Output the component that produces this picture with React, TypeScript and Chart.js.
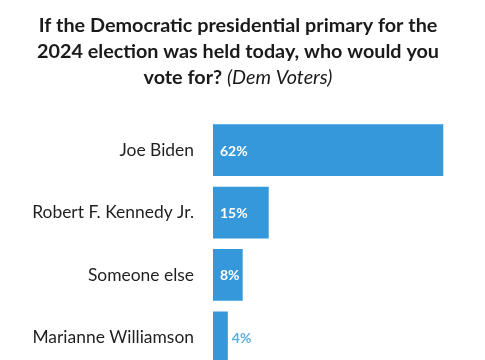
import React, { useEffect, useRef } from "react";
import { Chart, registerables } from "chart.js";

Chart.register(...registerables);

const categories = ["Joe Biden", "Robert F. Kennedy Jr.", "Someone else", "Marianne Williamson"];
const values = [62, 15, 8, 4];
const valueLabels = ["62%", "15%", "8%", "4%"];
const titleLines = [
  "If the Democratic presidential primary for the",
  "2024 election was held today, who would you",
];
const titleLastBold = "vote for? ";
const titleLastItalic = "(Dem Voters)";

const BAR_COLOR = "#3498db";
const FONT = "Lato, 'Open Sans', sans-serif";

function fitSize(text: string, weight: string, target: number): number {
  const c = document.createElement("canvas").getContext("2d")!;
  c.font = `${weight} 20px ${FONT}`;
  const w = c.measureText(text).width;
  return (20 * target) / w;
}

const titlePlugin = {
  id: "mixedTitle",
  afterDraw(chart: any) {
    const ctx = chart.ctx;
    const cx = 238;
    const size = fitSize(titleLines[0], "bold", 399);
    ctx.save();
    ctx.fillStyle = "#1a1a1a";
    ctx.textBaseline = "middle";
    ctx.textAlign = "center";
    ctx.font = `bold ${size}px ${FONT}`;
    const ys = [26, 52, 78];
    titleLines.forEach((t, i) => ctx.fillText(t, cx, ys[i]));
    const wb = ctx.measureText(titleLastBold).width;
    ctx.font = `italic ${size}px ${FONT}`;
    const wi = ctx.measureText(titleLastItalic).width;
    const start = cx - (wb + wi) / 2;
    ctx.textAlign = "left";
    ctx.font = `bold ${size}px ${FONT}`;
    ctx.fillText(titleLastBold, start, ys[2]);
    ctx.font = `italic ${size}px ${FONT}`;
    ctx.fillText(titleLastItalic, start + wb, ys[2]);
    ctx.restore();
  },
};

const labelPlugin = {
  id: "barLabels",
  afterDatasetsDraw(chart: any) {
    const ctx = chart.ctx;
    const meta = chart.getDatasetMeta(0);
    ctx.save();
    ctx.font = `bold 14px ${FONT}`;
    ctx.textBaseline = "middle";
    ctx.textAlign = "left";
    meta.data.forEach((bar: any, i: number) => {
      const txt = valueLabels[i];
      const w = bar.x - bar.base;
      if (w > 20) {
        ctx.fillStyle = "#ffffff";
        ctx.fillText(txt, bar.base + 7, bar.y + 1);
      } else {
        ctx.fillStyle = "#5aaee0";
        ctx.fillText(txt, bar.x + 4, bar.y + 1);
      }
    });
    ctx.restore();
  },
};

export default function App() {
  const ref = useRef<HTMLCanvasElement>(null);
  useEffect(() => {
    document.body.style.margin = "0";
    document.body.style.background = "#ffffff";
    const labelSize = fitSize(categories[1], "normal", 162);
    const chart = new Chart(ref.current!, {
      type: "bar",
      data: {
        labels: categories,
        datasets: [
          {
            data: values,
            backgroundColor: BAR_COLOR,
            borderWidth: 0,
            barPercentage: 0.83,
            categoryPercentage: 1,
          },
        ],
      },
      options: {
        indexAxis: "y",
        responsive: true,
        maintainAspectRatio: false,
        animation: false,
        layout: { padding: { top: 119, bottom: 0, left: 0, right: 12 } },
        plugins: {
          legend: { display: false },
          title: { display: false },
          tooltip: { enabled: false },
        },
        scales: {
          x: { display: false, min: 0, max: 70 },
          y: {
            grid: { display: false, drawTicks: false },
            border: { display: false },
            ticks: {
              padding: 19,
              color: "#1f1f1f",
              font: { family: FONT, size: labelSize },
            },
            afterFit: (s: any) => {
              s.width = 213;
            },
          },
        },
      },
      plugins: [titlePlugin, labelPlugin],
    });
    return () => chart.destroy();
  }, []);
  return (
    <div style={{ width: 485, height: 360, overflow: "hidden", background: "#fff" }}>
      <div style={{ position: "relative", width: 485, height: 398 }}>
        <canvas ref={ref} />
      </div>
    </div>
  );
}
